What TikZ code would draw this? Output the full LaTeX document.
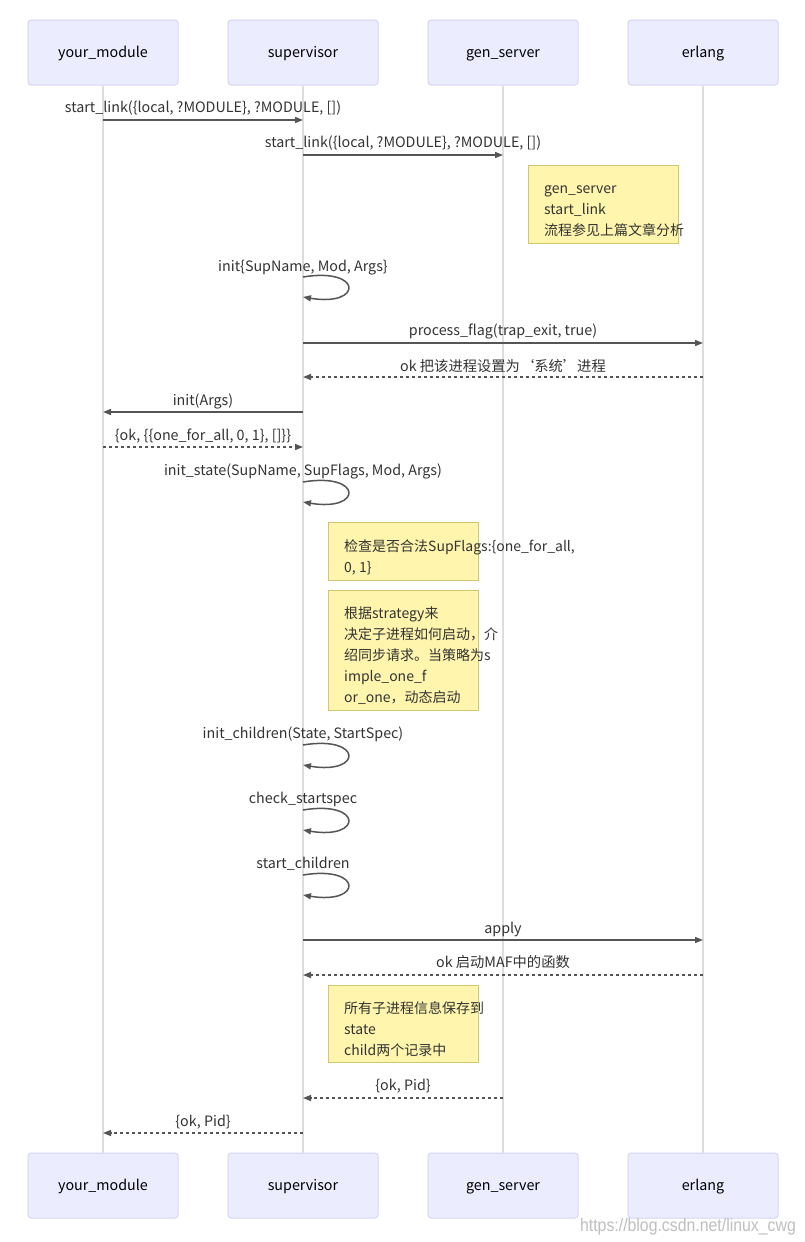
\documentclass[tikz,border=0pt]{standalone}
\usepackage{fontspec}
\setmainfont{Noto Sans CJK SC}
\newfontfamily\wmfont{Liberation Sans}
\usetikzlibrary{arrows.meta}
\definecolor{actorfill}{HTML}{ECECFF}
\definecolor{actorline}{HTML}{D6D6F5}
\definecolor{notefill}{HTML}{FFF5AD}
\definecolor{noteline}{HTML}{CFC66E}
\definecolor{lifecol}{HTML}{DDDDDD}
\definecolor{msgline}{HTML}{555555}
\definecolor{txt}{HTML}{333333}
\begin{document}
\begin{tikzpicture}[x=1pt,y=-1pt,
  font=\fontsize{14.3}{21}\selectfont,
  actor/.style={draw=actorline, fill=actorfill, rounded corners=3pt, minimum width=150pt, minimum height=65pt, inner sep=0pt, line width=1pt, text=black, text height=12pt, text depth=2pt},
  notebox/.style={draw=noteline, fill=notefill, line width=1pt, inner sep=0pt},
  noteline/.style={anchor=base west, inner sep=0pt, text=txt, font=\fontsize{14}{21}\selectfont},
  life/.style={draw=lifecol, line width=1.5pt},
  msg/.style={draw=msgline, line width=1.5pt, -{Triangle[length=8pt,width=6pt]}},
  reply/.style={msg, dash pattern=on 3pt off 3pt},
  lbl/.style={anchor=base, text=txt, inner sep=0pt},
]
\useasboundingbox (0,0) rectangle (804,1242);
\fill[white] (0,0) rectangle (804,1242);

% actors
\node[actor] (a1t) at (103,52.5) {your\_module};
\node[actor] (a2t) at (303,52.5) {supervisor};
\node[actor] (a3t) at (503,52.5) {gen\_server};
\node[actor] (a4t) at (703,52.5) {erlang};
\node[actor] (a1b) at (103,1185.5) {your\_module};
\node[actor] (a2b) at (303,1185.5) {supervisor};
\node[actor] (a3b) at (503,1185.5) {gen\_server};
\node[actor] (a4b) at (703,1185.5) {erlang};

% lifelines
\draw[life] (a1t.south) -- (a1b.north);
\draw[life] (a2t.south) -- (a2b.north);
\draw[life] (a3t.south) -- (a3b.north);
\draw[life] (a4t.south) -- (a4b.north);

% message 1
\coordinate (m1a) at (103,120); \coordinate (m1b) at (303,120);
\draw[msg] (m1a) -- (m1b);
\node[lbl] (l1) at (203,112) {start\_link(\{local, ?MODULE\}, ?MODULE, [])};
% message 2
\coordinate (m2a) at (303,155); \coordinate (m2b) at (503,155);
\draw[msg] (m2a) -- (m2b);
\node[lbl] (l2) at (403,147) {start\_link(\{local, ?MODULE\}, ?MODULE, [])};

% note 1
\node[notebox, minimum width=150pt, minimum height=78pt] (n1) at (603,204) {};
\node[noteline] (n1a) at (544,193) {gen\_server};
\node[noteline] (n1b) at (544,214) {start\_link};
\node[noteline] (n1c) at (544,235) {流程参见上篇文章分析};

% self loop init
\node[lbl] (l3) at (303,271) {init\{SupName, Mod, Args\}};
\coordinate (s1a) at (303,277); \coordinate (s1b) at (303,297);
\draw[msg] (s1a) .. controls +(60,-10) and +(60,10) .. (s1b);

% process_flag
\coordinate (m4a) at (303,343); \coordinate (m4b) at (703,343);
\draw[msg] (m4a) -- (m4b);
\node[lbl] (l4) at (503,335) {process\_flag(trap\_exit, true)};
\coordinate (m5a) at (703,377); \coordinate (m5b) at (303,377);
\draw[reply] (m5a) -- (m5b);
\node[lbl] (l5) at (503,371) {ok 把该进程设置为‘系统’进程};

% init(Args)
\coordinate (m6a) at (303,412); \coordinate (m6b) at (103,412);
\draw[msg] (m6a) -- (m6b);
\node[lbl] (l6) at (203,405) {init(Args)};
\coordinate (m7a) at (103,447); \coordinate (m7b) at (303,447);
\draw[reply] (m7a) -- (m7b);
\node[lbl] (l7) at (203,440) {\{ok, \{\{one\_for\_all, 0, 1\}, []\}\}};

% init_state loop
\node[lbl] (l8) at (303,475) {init\_state(SupName, SupFlags, Mod, Args)};
\coordinate (s2a) at (303,482); \coordinate (s2b) at (303,502);
\draw[msg] (s2a) .. controls +(60,-10) and +(60,10) .. (s2b);

% note 2
\node[notebox, minimum width=150pt, minimum height=58pt] (n2) at (403,551) {};
\node[noteline] (n2a) at (344,551) {检查是否合法SupFlags:\{one\_for\_all,};
\node[noteline] (n2b) at (344,572) {0, 1\}};

% note 3
\node[notebox, minimum width=150pt, minimum height=120pt] (n3) at (403,650) {};
\node[noteline] (n3a) at (344,618) {根据strategy来};
\node[noteline] (n3b) at (344,639) {决定子进程如何启动，介};
\node[noteline] (n3c) at (344,660) {绍同步请求。当策略为s};
\node[noteline] (n3d) at (344,681) {imple\_one\_f};
\node[noteline] (n3e) at (344,702) {or\_one，动态启动};

% init_children loop
\node[lbl] (l9) at (303,738) {init\_children(State, StartSpec)};
\coordinate (s3a) at (303,745); \coordinate (s3b) at (303,765);
\draw[msg] (s3a) .. controls +(60,-10) and +(60,10) .. (s3b);

% check_startspec loop
\node[lbl] (l10) at (303,803) {check\_startspec};
\coordinate (s4a) at (303,810); \coordinate (s4b) at (303,830);
\draw[msg] (s4a) .. controls +(60,-10) and +(60,10) .. (s4b);

% start_children loop
\node[lbl] (l11) at (303,868) {start\_children};
\coordinate (s5a) at (303,875); \coordinate (s5b) at (303,895);
\draw[msg] (s5a) .. controls +(60,-10) and +(60,10) .. (s5b);

% apply
\coordinate (m12a) at (303,940); \coordinate (m12b) at (703,940);
\draw[msg] (m12a) -- (m12b);
\node[lbl] (l12) at (503,933) {apply};
\coordinate (m13a) at (703,975); \coordinate (m13b) at (303,975);
\draw[reply] (m13a) -- (m13b);
\node[lbl] (l13) at (503,967) {ok 启动MAF中的函数};

% note 4
\node[notebox, minimum width=150pt, minimum height=77pt] (n4) at (403,1023.5) {};
\node[noteline] (n4a) at (344,1013) {所有子进程信息保存到};
\node[noteline] (n4b) at (344,1034) {state};
\node[noteline] (n4c) at (344,1055) {child两个记录中};

% replies
\coordinate (m14a) at (503,1098); \coordinate (m14b) at (303,1098);
\draw[reply] (m14a) -- (m14b);
\node[lbl] (l14) at (403,1090) {\{ok, Pid\}};
\coordinate (m15a) at (303,1133); \coordinate (m15b) at (103,1133);
\draw[reply] (m15a) -- (m15b);
\node[lbl] (l15) at (203,1126) {\{ok, Pid\}};

% watermark
\node[anchor=base east, inner sep=0pt, text=black!25, font=\wmfont\fontsize{18}{18}\selectfont, xscale=0.88] (wm) at (796,1231) {https://blog.csdn.net/linux\_cwg};
\end{tikzpicture}
\end{document}
